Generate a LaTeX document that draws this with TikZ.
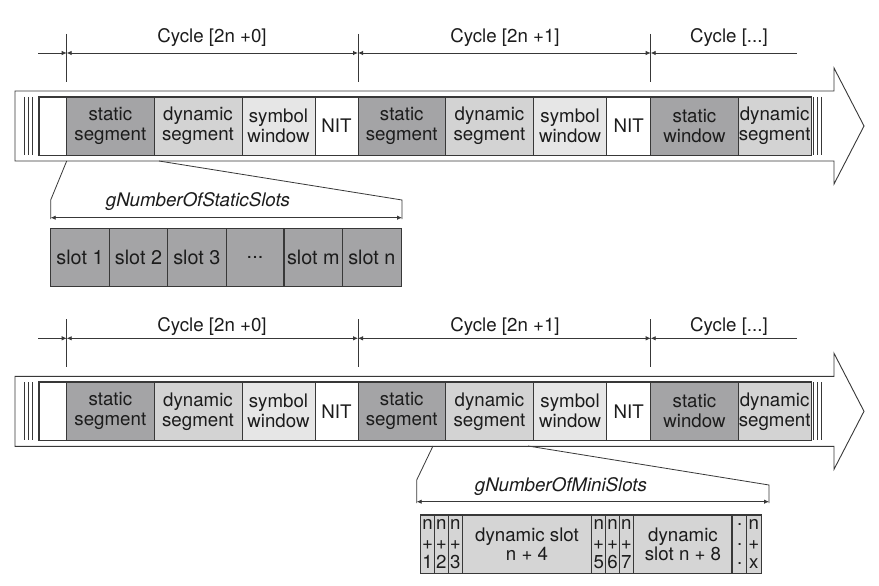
\documentclass[tikz,border=0pt]{standalone}
\usepackage{fontspec}
\setmainfont{TeX Gyre Heros}
\usetikzlibrary{arrows.meta}
\definecolor{cstat}{HTML}{A4A4A6}
\definecolor{cdyn}{HTML}{D3D3D3}
\definecolor{csym}{HTML}{E6E6E6}
\definecolor{cmini}{HTML}{D5D5D5}
\definecolor{cline}{HTML}{383838}
\definecolor{ctext}{HTML}{1C1C1C}
\tikzset{
  segbox/.style={draw=cline,line width=0.9pt,inner sep=0pt,align=center,text=ctext,
    font=\fontsize{18.7pt}{20pt}\selectfont},
  slotbox/.style={segbox,font=\fontsize{19.8pt}{20pt}\selectfont},
  minibox/.style={draw=cline,line width=0.9pt,inner sep=0pt,align=center,text=ctext,
    font=\fontsize{18.7pt}{19.5pt}\selectfont},
  lbl/.style={text=ctext,inner sep=0pt,font=\fontsize{18.7pt}{20pt}\selectfont},
  itlbl/.style={text=ctext,inner sep=0pt,font=\fontsize{18.7pt}{20pt}\selectfont\itshape},
  bandline/.style={draw=cline,line width=0.9pt,line join=miter},
  thinl/.style={draw=cline,line width=0.8pt},
  dimline/.style={draw=cline,line width=0.8pt},
  tip/.tip={Latex[length=5pt,width=4.5pt]}
}
\newcommand\segnode[8][segbox]{%
  \pgfmathsetmacro\segw{#4-#3}%
  \pgfmathsetmacro\segh{#6-#5}%
  \pgfmathsetmacro\segx{(#3+#4)/2}%
  \pgfmathsetmacro\segy{(#5+#6)/2}%
  \node[#1,fill=#7,minimum width=\segw pt,minimum height=\segh pt] (#2) at (\segx,\segy) {#8};}
\newcommand\mininode[5]{%
  \pgfmathsetmacro\segw{#3-#2}%
  \pgfmathsetmacro\segx{(#2+#3)/2}%
  \node[minibox,fill=#4,minimum width=\segw pt,minimum height=58.3pt] (#1) at (\segx,544.15) {#5};}
\newcommand\band[3]{%
  \begin{scope}[shift={(0,#1)}]
    \draw[bandline] (15,91) -- (834,91) -- (834,68) -- (864,126) -- (834,184) -- (834,161) -- (15,161) -- cycle;
    \foreach \xx in {24.5,28.5,32.5,813,817,821} \draw[thinl] (\xx,97) -- (\xx,155);
    \segnode{#2w}{39.5}{66.7}{97}{155}{white}{}
    \segnode{#2sa}{66.7}{154}{97}{155}{cstat}{static\\segment}
    \segnode{#2da}{154}{242}{97}{155}{cdyn}{dynamic\\segment}
    \segnode{#2ya}{242}{315}{97}{155}{csym}{symbol\\window}
    \segnode{#2na}{315}{358}{97}{155}{white}{NIT}
    \segnode{#2sb}{358}{445.5}{97}{155}{cstat}{static\\segment}
    \segnode{#2db}{445.5}{533.5}{97}{155}{cdyn}{dynamic\\segment}
    \segnode{#2yb}{533.5}{606.7}{97}{155}{csym}{symbol\\window}
    \segnode{#2nb}{606.7}{650.7}{97}{155}{white}{NIT}
    \segnode{#2sc}{650.7}{738.3}{97}{155}{cstat}{static\\window}
    \segnode{#2dc}{738.3}{811}{97}{155}{cdyn}{dynamic\\segment}
    \draw[draw=cline,line width=1.3pt] (#2w.north west) rectangle (#2dc.south east);
    \foreach \xx in {66.7,358,650.7} \draw[thinl] (\xx,34) -- (\xx,82);
    \coordinate (#2l) at (38,53);
    \coordinate (#2t0) at (66.7,53);
    \coordinate (#2t1) at (358,53);
    \coordinate (#2t2) at (650.7,53);
    \coordinate (#2r) at (797,53);
    \draw[dimline,-tip] (#2l) -- (#2t0);
    \draw[dimline,tip-tip] (#2t0) -- (#2t1);
    \draw[dimline,tip-tip] (#2t1) -- (#2t2);
    \draw[dimline,tip-] (#2t2) -- (#2r);
    \node[lbl,anchor=base] (#2c0) at (212,#3) {Cycle [2n +0]};
    \node[lbl,anchor=base] (#2c1) at (505,#3) {Cycle [2n +1]};
    \node[lbl,anchor=base] (#2c2) at (729,#3) {Cycle [...]};
  \end{scope}}
\begin{document}
\begin{tikzpicture}[x=1pt,y=-1pt]
\useasboundingbox[fill=white] (0,0) rectangle (879,586);
\band{0}{a}{43}
\band{285.3}{b}{45.7}
% static slots expansion
\coordinate (za1) at (66.7,161);
\coordinate (za2) at (50.7,200);
\coordinate (za3) at (50.7,219);
\coordinate (zb1) at (159,161);
\coordinate (zb2) at (402,200);
\coordinate (zb3) at (402,219);
\draw[thinl] (za1) -- (za2) -- (za3);
\draw[thinl] (zb1) -- (zb2) -- (zb3);
\coordinate (zda) at (50.7,217.7);
\coordinate (zdb) at (402,217.7);
\draw[dimline,tip-tip] (zda) -- (zdb);
\node[itlbl,anchor=base] (gs) at (198,206) {gNumberOfStaticSlots};
\segnode[slotbox]{sl1}{50.7}{109.3}{228.3}{286.7}{cstat}{slot 1}
\segnode[slotbox]{sl2}{109.3}{167.7}{228.3}{286.7}{cstat}{slot 2}
\segnode[slotbox]{sl3}{167.7}{226}{228.3}{286.7}{cstat}{slot 3}
\segnode[slotbox]{sl4}{226}{284}{228.3}{286.7}{cstat}{...}
\segnode[slotbox]{sl5}{284}{342.7}{228.3}{286.7}{cstat}{slot m}
\segnode[slotbox]{sl6}{342.7}{401}{228.3}{286.7}{cstat}{slot n}
\draw[draw=cline,line width=1.6pt] (sl5.north west) -- (sl5.south west);
% minislots expansion
\coordinate (ya1) at (433,446);
\coordinate (ya2) at (416.7,480);
\coordinate (ya3) at (416.7,503);
\coordinate (yb1) at (528,446);
\coordinate (yb2) at (769,485);
\coordinate (yb3) at (769,503);
\draw[thinl] (ya1) -- (ya2) -- (ya3);
\draw[thinl] (yb1) -- (yb2) -- (yb3);
\coordinate (yda) at (416.7,501.7);
\coordinate (ydb) at (769,501.7);
\draw[dimline,tip-tip] (yda) -- (ydb);
\node[itlbl,anchor=base] (gm) at (561,491.5) {gNumberOfMiniSlots};
\mininode{m1}{420.7}{434.3}{cmini}{n\\+\\1}
\mininode{m2}{434.3}{448.3}{cmini}{n\\+\\2}
\mininode{m3}{448.3}{462.3}{cmini}{n\\+\\3}
\mininode{m4}{462.3}{591.7}{cmini}{dynamic slot\\n + 4}
\mininode{m5}{591.7}{605.7}{cmini}{n\\+\\5}
\mininode{m6}{605.7}{619.3}{cmini}{n\\+\\6}
\mininode{m7}{619.3}{633.3}{cmini}{n\\+\\7}
\mininode{m8}{633.3}{732.7}{cmini}{dynamic\\slot n + 8}
\mininode{m9}{732.7}{746.7}{cmini}{.\\.\\.}
\mininode{m10}{746.7}{761}{cmini}{n\\+\\x}
\draw[draw=cline,line width=1.3pt] (m1.north west) rectangle (m10.south east);
\draw[draw=cline,line width=2pt] (m9.north west) -- (m9.south west);
\end{tikzpicture}
\end{document}
